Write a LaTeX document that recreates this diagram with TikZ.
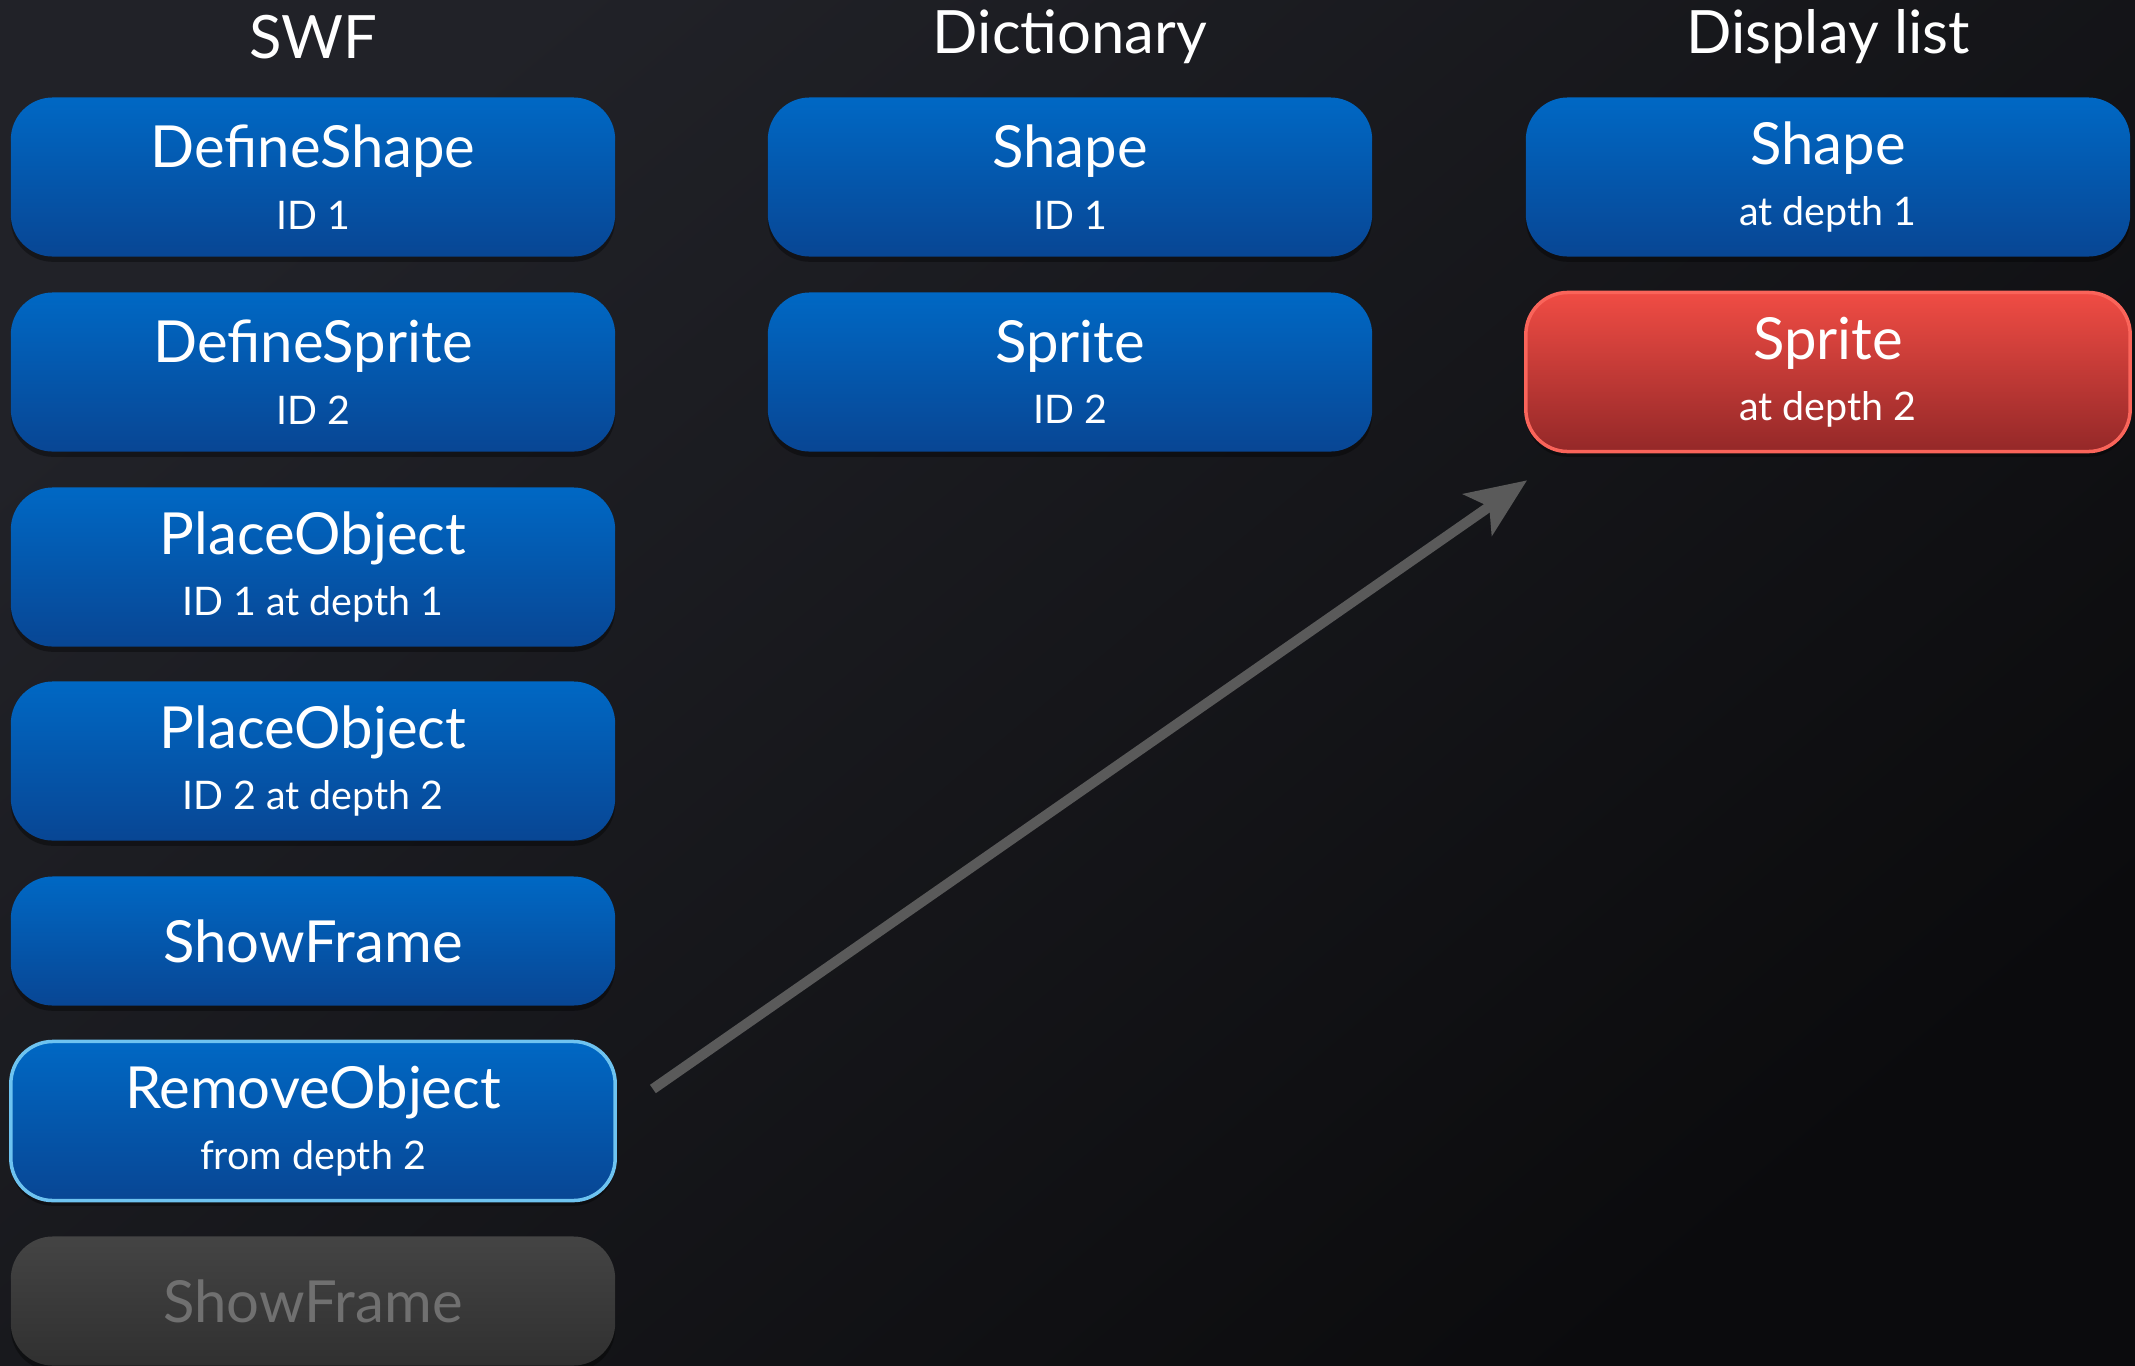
\documentclass[tikz,border=0pt]{standalone}
\usepackage{fontspec}
\setmainfont{Lato}
\usetikzlibrary{arrows.meta}
\usetikzlibrary{shadows}
\definecolor{bgtop}{RGB}{33,34,40}
\definecolor{bgbot}{RGB}{11,11,13}
\definecolor{bluetop}{RGB}{0,104,196}
\definecolor{bluebot}{RGB}{8,70,148}
\definecolor{redtop}{RGB}{240,76,68}
\definecolor{redbot}{RGB}{148,40,40}
\definecolor{redline}{RGB}{250,100,90}
\definecolor{greytop}{RGB}{68,68,68}
\definecolor{greybot}{RGB}{48,48,48}
\definecolor{greytext}{RGB}{112,112,112}
\definecolor{selline}{RGB}{110,195,240}
\definecolor{arrowgrey}{RGB}{90,90,90}

\newcommand{\tagname}[1]{{\fontsize{16.5}{16.5}\selectfont #1}}
\newcommand{\tagsub}[1]{{\fontsize{11.2}{11.2}\selectfont #1}}

\begin{document}
\begin{tikzpicture}[x=0.01cm, y=-0.01cm,
  every node/.style={text=white},
  coltitle/.style={font=\fontsize{17}{17}\selectfont},
  tag/.style={rounded corners=0.42cm, minimum width=6.04cm, minimum height=1.59cm,
    top color=bluetop, bottom color=bluebot, align=center, inner sep=0pt,
    drop shadow={shadow xshift=0pt, shadow yshift=-1.5pt, opacity=0.35, fill=black}},
  shorttag/.style={tag, minimum height=1.29cm},
  current/.style={draw=selline, line width=1pt},
  removed/.style={top color=redtop, bottom color=redbot, draw=redline, line width=1pt},
  pending/.style={top color=greytop, bottom color=greybot, text=greytext},
  link/.style={draw=arrowgrey, line width=2.9pt, -{Stealth[length=0.6cm, width=0.5cm, inset=0.14cm]}}
]

  % Hintergrund
  \useasboundingbox (0,0) rectangle (2135,1366);
  \shade[top color=bgtop, bottom color=bgbot, shading angle=40] (0,0) rectangle (2135,1366);

  % Spaltenueberschriften
  \node[coltitle] (hswf) at (313,37) {SWF};
  \node[coltitle] (hdict) at (1070,37) {Dictionary};
  \node[coltitle] (hdisp) at (1828,37) {Display list};

  % SWF-Tags
  \node[tag] (defshape) at (313,177) {\tagname{DefineShape}\\[5.5pt]\tagsub{ID 1}};
  \node[tag] (defsprite) at (313,372) {\tagname{DefineSprite}\\[5.5pt]\tagsub{ID 2}};
  \node[tag] (place1) at (313,567) {\tagname{PlaceObject}\\[5.5pt]\tagsub{ID 1 at depth 1}};
  \node[tag] (place2) at (313,761) {\tagname{PlaceObject}\\[5.5pt]\tagsub{ID 2 at depth 2}};
  \node[shorttag] (frame1) at (313,941) {\tagname{ShowFrame}};
  \node[tag, current] (remove) at (313,1121) {\tagname{RemoveObject}\\[5.5pt]\tagsub{from depth 2}};
  \node[shorttag, pending] (frame2) at (313,1301) {\tagname{ShowFrame}};

  % Dictionary
  \node[tag] (dshape) at (1070,177) {\tagname{Shape}\\[5.5pt]\tagsub{ID 1}};
  \node[tag] (dsprite) at (1070,372) {\tagname{Sprite}\\[5.5pt]\tagsub{ID 2}};

  % Display list
  \node[tag] (lshape) at (1828,177) {\tagname{Shape}\\[5.5pt]\tagsub{at depth 1}};
  \node[tag, removed] (lsprite) at (1828,372) {\tagname{Sprite}\\[5.5pt]\tagsub{at depth 2}};

  % Pfeil
  \draw[link] ([shift={(36,-32)}]remove.east) -- ([shift={(3,27)}]lsprite.south west);

\end{tikzpicture}
\end{document}
